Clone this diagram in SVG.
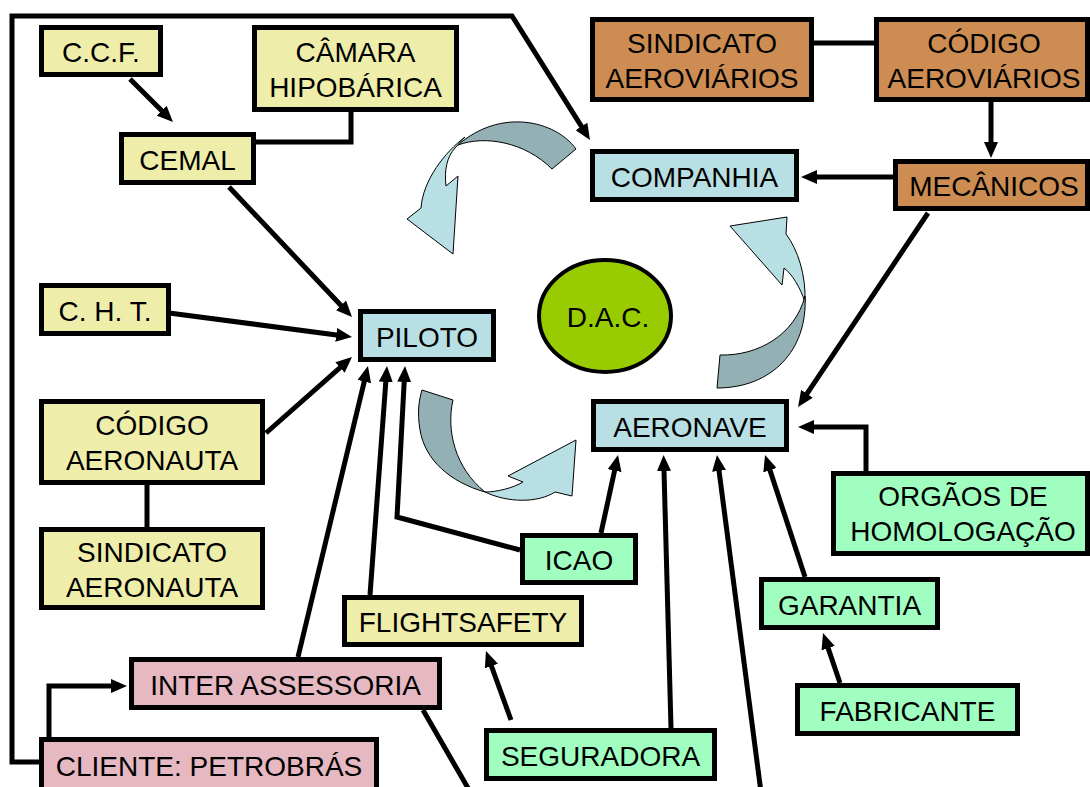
<svg xmlns="http://www.w3.org/2000/svg" width="1090" height="787" viewBox="0 0 1090 787">
  <style>
    .box { stroke: #000; stroke-width: 5; }
    .yel { fill: #eeeeaa; }
    .blu { fill: #b8e0e4; }
    .brn { fill: #cc8c52; }
    .grn { fill: #a0ffc0; }
    .pnk { fill: #e6b8c2; }
    text { font-family: "Liberation Sans", Arial, sans-serif; font-size: 28px; fill: #000; text-anchor: middle; }
    .ln { fill: none; stroke: #000; stroke-width: 5; stroke-linejoin: miter; }
    .arr { marker-end: url(#ah); }
    .bandDark { fill: #93b1b5; stroke: #000; stroke-width: 1; }
    .bandLight { fill: #b8e0e4; stroke: #000; stroke-width: 1; }
  </style>
  <defs>
    <marker id="ah" markerWidth="16" markerHeight="14" refX="8" refY="7" orient="auto" markerUnits="userSpaceOnUse">
      <path d="M0,0 L16,7 L0,14 Z" fill="#000"/>
    </marker>
  </defs>
  <rect width="1090" height="787" fill="#fff"/>

  <!-- cycle arrows around D.A.C. -->
  <g id="cycle">
    <path class="bandLight" d="M465,137 C445,152 423,180 421,208 L407,219 L453,254 L458,176 L446,186 C444,170 447,157 455,148 Z"/>
    <path class="bandDark" d="M576,149 C555,120 500,108 458,145 C485,135 525,142 552,169 Z"/>
    <path class="bandLight" d="M730,226 L787,217 L786,234 C798,250 806,275 805,302 C800,287 792,274 784,268 L782,285 Z"/>
    <path class="bandDark" d="M805,296 C808,350 772,388 717,388 L720,355 C758,356 795,335 805,296 Z"/>
    <path class="bandDark" d="M422,390 L453,400 C446,430 455,468 485,492 C450,482 425,460 420,430 C417,412 419,400 422,390 Z"/>
    <path class="bandLight" d="M485,492 C497,492 513,488 523,482 L508,476 L576,440 L572,496 L555,492 C538,503 508,503 485,492 Z"/>
  </g>

  <!-- connectors -->
  <g id="connectors">
    <polyline class="ln arr" points="39,762 12,762 12,16 512,16 585.7,133.2"/>
    <line class="ln arr" x1="130" y1="79" x2="167.3" y2="116.3"/>
    <polyline class="ln" points="351,112 351,142 256,142"/>
    <line class="ln arr" x1="229" y1="187" x2="346.5" y2="311.2"/>
    <line class="ln arr" x1="169" y1="313" x2="344.1" y2="335.9"/>
    <line class="ln arr" x1="266" y1="433" x2="346" y2="362.3"/>
    <line class="ln" x1="147" y1="485" x2="147" y2="527"/>
    <line class="ln arr" x1="298" y1="657" x2="366.1" y2="373.8"/>
    <line class="ln arr" x1="370" y1="595" x2="386.4" y2="374"/>
    <polyline class="ln arr" points="520,550 397,517 404.6,374"/>
    <line class="ln arr" x1="893" y1="177" x2="809" y2="177"/>
    <line class="ln" x1="814" y1="43" x2="874" y2="43"/>
    <line class="ln arr" x1="991" y1="102" x2="991" y2="150"/>
    <line class="ln arr" x1="928" y1="213" x2="802.5" y2="400.4"/>
    <polyline class="ln arr" points="866,471 866,427 806,427"/>
    <line class="ln arr" x1="601" y1="533" x2="616.3" y2="462.8"/>
    <line class="ln arr" x1="671" y1="728" x2="663.8" y2="463"/>
    <line class="ln arr" x1="762" y1="800" x2="718" y2="463"/>
    <line class="ln arr" x1="805" y1="577" x2="767.5" y2="462.6"/>
    <line class="ln arr" x1="840" y1="683" x2="825.6" y2="640.6"/>
    <line class="ln arr" x1="511" y1="720" x2="488.7" y2="658.5"/>
    <line class="ln" x1="423" y1="710" x2="472" y2="795"/>
    <polyline class="ln arr" points="49,737 49,686 119,686"/>
  </g>

  <!-- nodes -->
  <g id="ccf"><rect class="box yel" x="41.5" y="27.5" width="119" height="47"/><text x="101" y="62">C.C.F.</text></g>
  <g id="camara"><rect class="box yel" x="254.5" y="27.5" width="202" height="82"/><text x="355.5" y="62">CÂMARA</text><text x="355.5" y="97">HIPOBÁRICA</text></g>
  <g id="cemal"><rect class="box yel" x="121.5" y="134.5" width="132" height="48"/><text x="187.5" y="170">CEMAL</text></g>
  <g id="cht"><rect class="box yel" x="41.5" y="285.5" width="127" height="48"/><text x="105" y="321">C. H. T.</text></g>
  <g id="piloto"><rect class="box blu" x="360.5" y="311.5" width="133" height="48"/><text x="427" y="347">PILOTO</text></g>
  <g id="codigo-aeronauta"><rect class="box yel" x="41.5" y="401.5" width="221" height="81"/><text x="152" y="435">CÓDIGO</text><text x="152" y="470">AERONAUTA</text></g>
  <g id="sindicato-aeronauta"><rect class="box yel" x="41.5" y="529.5" width="221" height="78"/><text x="152" y="562">SINDICATO</text><text x="152" y="597">AERONAUTA</text></g>
  <g id="sindicato-aeroviarios"><rect class="box brn" x="592.5" y="19.5" width="219" height="80"/><text x="702" y="53">SINDICATO</text><text x="702" y="88">AEROVIÁRIOS</text></g>
  <g id="codigo-aeroviarios"><rect class="box brn" x="876.5" y="19.5" width="211" height="80"/><text x="984" y="53">CÓDIGO</text><text x="984" y="88">AEROVIÁRIOS</text></g>
  <g id="mecanicos"><rect class="box brn" x="895.5" y="161.5" width="192" height="47"/><text x="994" y="196">MECÂNICOS</text></g>
  <g id="companhia"><rect class="box blu" x="592.5" y="151.5" width="204" height="48"/><text x="694.5" y="187">COMPANHIA</text></g>
  <g id="dac"><ellipse cx="605" cy="316" rx="66" ry="56" fill="#99cc00" stroke="#000" stroke-width="4"/><text x="608" y="327">D.A.C.</text></g>
  <g id="aeronave"><rect class="box blu" x="593.5" y="401.5" width="193" height="48"/><text x="690" y="437">AERONAVE</text></g>
  <g id="orgaos"><rect class="box grn" x="833.5" y="473.5" width="254" height="80"/><text x="963" y="506">ORGÃOS DE</text><text x="963" y="541">HOMOLOGAÇÃO</text></g>
  <g id="icao"><rect class="box grn" x="522.5" y="535.5" width="113" height="47"/><text x="579" y="570">ICAO</text></g>
  <g id="flightsafety"><rect class="box yel" x="344.5" y="597.5" width="237" height="47"/><text x="463" y="632">FLIGHTSAFETY</text></g>
  <g id="garantia"><rect class="box grn" x="761.5" y="579.5" width="176" height="48"/><text x="849.5" y="615">GARANTIA</text></g>
  <g id="fabricante"><rect class="box grn" x="797.5" y="685.5" width="220" height="48"/><text x="907.5" y="721">FABRICANTE</text></g>
  <g id="seguradora"><rect class="box grn" x="486.5" y="730.5" width="228" height="48"/><text x="600.5" y="766">SEGURADORA</text></g>
  <g id="inter-assessoria"><rect class="box pnk" x="131.5" y="659.5" width="308" height="48"/><text x="285.5" y="695">INTER ASSESSORIA</text></g>
  <g id="cliente"><rect class="box pnk" x="41.5" y="739.5" width="335" height="60"/><text x="209" y="776">CLIENTE: PETROBRÁS</text></g>
</svg>
